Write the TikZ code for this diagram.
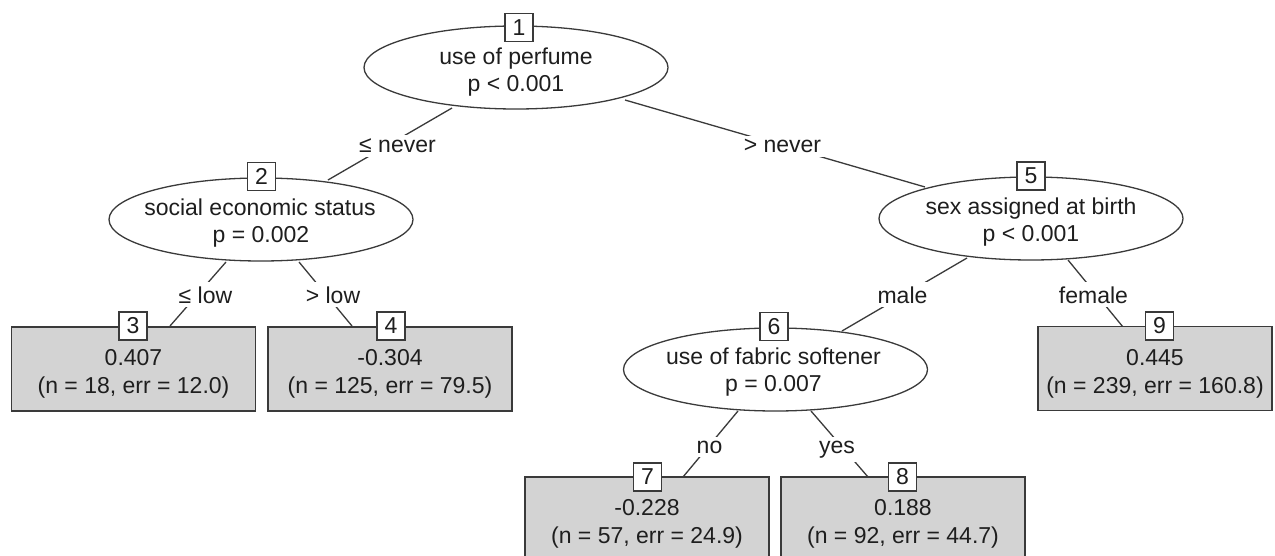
\documentclass[tikz,border=0pt]{standalone}
\usepackage{fontspec}
\setmainfont{Liberation Sans}
\usetikzlibrary{shapes.geometric}
\definecolor{linec}{HTML}{3A3A3A}
\definecolor{termfill}{HTML}{D3D3D3}
\definecolor{txt}{HTML}{1E1E1E}
\begin{document}
\begin{tikzpicture}[x=1pt,y=-1pt,
  font=\fontsize{23}{27}\selectfont,
  inner/.style={ellipse, draw=linec, line width=1.3pt, minimum width=304pt, minimum height=83pt, inner sep=0pt},
  term/.style={rectangle, draw=linec, fill=termfill, line width=1.3pt, minimum width=244pt, minimum height=84pt, inner sep=0pt},
  idbox/.style={rectangle, draw=linec, fill=white, line width=1.3pt, minimum width=28pt, minimum height=28pt, inner sep=0pt, text=txt},
  txtline/.style={anchor=base, text=txt, inner sep=0pt},
  edgelab/.style={anchor=base, fill=white, text=txt, inner xsep=3pt, inner ysep=4pt},
  edgeline/.style={draw=linec, line width=1.3pt}]
\useasboundingbox (0,0) rectangle (1275,556);
\fill[white] (0,0) rectangle (1275,556);

% edge end points
\coordinate (a12) at (452,108); \coordinate (b12) at (328,180);
\coordinate (a15) at (625,100); \coordinate (b15) at (925,187);
\coordinate (a23) at (226,262); \coordinate (b23) at (170,326);
\coordinate (a24) at (299,262); \coordinate (b24) at (352,326);
\coordinate (a56) at (967,258); \coordinate (b56) at (842,331);
\coordinate (a59) at (1068,260); \coordinate (b59) at (1123,327);
\coordinate (a67) at (738,411); \coordinate (b67) at (683,477);
\coordinate (a68) at (811,411); \coordinate (b68) at (868,477);

\draw[edgeline] (a12) -- (b12);
\draw[edgeline] (a15) -- (b15);
\draw[edgeline] (a23) -- (b23);
\draw[edgeline] (a24) -- (b24);
\draw[edgeline] (a56) -- (b56);
\draw[edgeline] (a59) -- (b59);
\draw[edgeline] (a67) -- (b67);
\draw[edgeline] (a68) -- (b68);

% inner nodes
\node[inner] (n1) at (516,67.5) {};
\node[inner] (n2) at (261,219.5) {};
\node[inner] (n5) at (1031,218.5) {};
\node[inner] (n6) at (775.5,369.5) {};

\node[txtline] (t1a) at (516,65) {use of perfume};
\node[txtline] (t1b) at (516,92) {p < 0.001};
\node[txtline] (t2a) at (260,216) {social economic status};
\node[txtline] (t2b) at (261,243) {p = 0.002};
\node[txtline] (t5a) at (1031,215) {sex assigned at birth};
\node[txtline] (t5b) at (1031,242) {p < 0.001};
\node[txtline] (t6a) at (773.5,364) {use of fabric softener};
\node[txtline] (t6b) at (773.5,391) {p = 0.007};

% terminal nodes
\node[term] (n3) at (133.5,369) {};
\node[term] (n4) at (390,369) {};
\node[term, minimum width=234pt] (n9) at (1155,368.5) {};
\node[term] (n7) at (647,519) {};
\node[term] (n8) at (903,519) {};

\node[txtline] (t3a) at (133.5,365) {0.407};
\node[txtline] (t3b) at (133.5,393) {(n = 18, err = 12.0)};
\node[txtline] (t4a) at (390,365) {-0.304};
\node[txtline] (t4b) at (390,393) {(n = 125, err = 79.5)};
\node[txtline] (t9a) at (1155,365) {0.445};
\node[txtline] (t9b) at (1155,393) {(n = 239, err = 160.8)};
\node[txtline] (t7a) at (647,515) {-0.228};
\node[txtline] (t7b) at (647,543) {(n = 57, err = 24.9)};
\node[txtline] (t8a) at (903,515) {0.188};
\node[txtline] (t8b) at (903,543) {(n = 92, err = 44.7)};

% edge labels
\node[edgelab] (l12) at (397.5,153) {≤ never};
\node[edgelab] (l15) at (782.5,153) {> never};
\node[edgelab] (l23) at (205.5,303) {≤ low};
\node[edgelab] (l24) at (333,303) {> low};
\node[edgelab] (l56) at (902.5,303) {male};
\node[edgelab] (l59) at (1093.5,303) {female};
\node[edgelab] (l67) at (709.5,453) {no};
\node[edgelab] (l68) at (837,453) {yes};

% id boxes
\node[idbox] (i1) at (519,27.5) {1};
\node[idbox] (i2) at (261.5,176.5) {2};
\node[idbox] (i5) at (1031,176) {5};
\node[idbox] (i6) at (774,326.5) {6};
\node[idbox] (i3) at (133,326) {3};
\node[idbox] (i4) at (391,326) {4};
\node[idbox] (i9) at (1159.5,326) {9};
\node[idbox] (i7) at (647.5,477) {7};
\node[idbox] (i8) at (902.5,477) {8};
\end{tikzpicture}
\end{document}
